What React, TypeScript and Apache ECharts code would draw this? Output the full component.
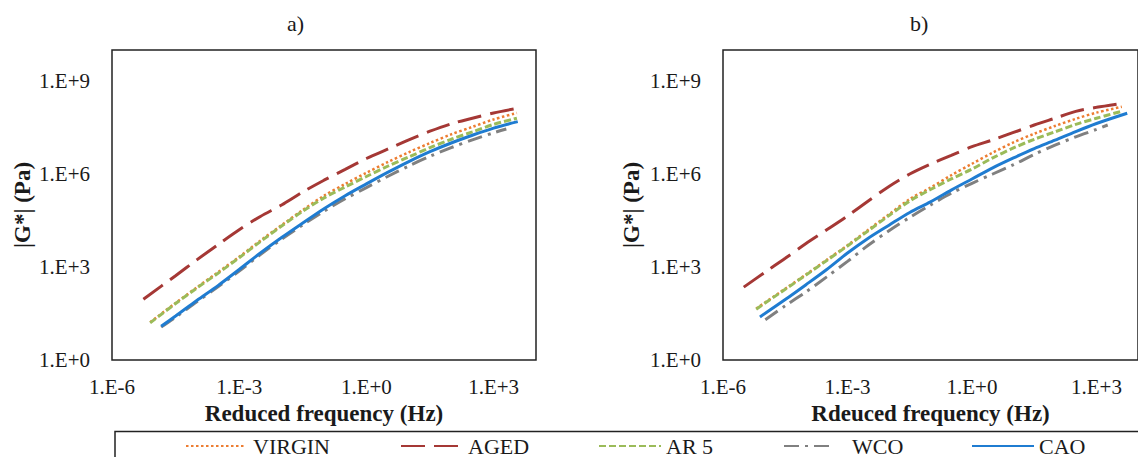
import React, { useEffect, useRef } from "react";
import * as echarts from "echarts";

const FONT = '"Liberation Serif", "Times New Roman", serif';

// Series names (legend order)
const seriesNames = ["VIRGIN", "AGED", "AR 5", "WCO", "CAO"];

// ---- Chart a) : reduced frequency (Hz) vs |G*| (Pa)
const aVirginFreq = [7.94e-6, 3.16e-5, 1e-4, 3.16e-4, 1e-3, 3.16e-3, 0.01, 0.0316, 0.1, 0.316, 1, 3.16, 10, 31.6, 100, 316, 1000, 3548];
const aVirginG = [16.6, 69.2, 219, 676, 2138, 7079, 22387, 69183, 199526, 478630, 1.096e6, 2.399e6, 5.01e6, 1.0e7, 1.905e7, 3.311e7, 5.754e7, 9.33e7];

const aAgedFreq = [5.5e-6, 3.16e-5, 1e-4, 3.16e-4, 1e-3, 3.16e-3, 0.01, 0.0316, 0.1, 0.316, 1, 3.16, 10, 31.6, 100, 316, 1000, 3715];
const aAgedG = [91.2, 525, 1698, 5248, 15849, 42658, 1.0e5, 263027, 630957, 1.413e6, 3.162e6, 6.31e6, 1.259e7, 2.399e7, 4.169e7, 6.31e7, 9.333e7, 1.318e8];

const aAr5Freq = [7.94e-6, 3.16e-5, 1e-4, 3.16e-4, 1e-3, 3.16e-3, 0.01, 0.0316, 0.1, 0.316, 1, 3.16, 10, 31.6, 100, 316, 1000, 3548];
const aAr5G = [15.8, 66.1, 209, 631, 1995, 6607, 20893, 63096, 169824, 380189, 831764, 1.778e6, 3.548e6, 7.079e6, 1.318e7, 2.291e7, 3.981e7, 6.31e7];

const aWcoFreq = [1.445e-5, 3.16e-5, 1e-4, 3.16e-4, 1e-3, 3.16e-3, 0.01, 0.0316, 0.1, 0.316, 1, 3.16, 10, 31.6, 100, 316, 1000, 1995];
const aWcoG = [11.5, 24.0, 75.9, 229, 741, 2512, 7943, 22909, 63096, 158489, 363078, 831764, 1.82e6, 3.715e6, 7.079e6, 1.259e7, 2.138e7, 2.818e7];

const aCaoFreq = [1.445e-5, 3.16e-5, 1e-4, 3.16e-4, 1e-3, 3.16e-3, 0.01, 0.0316, 0.1, 0.316, 1, 3.16, 10, 31.6, 100, 316, 1000, 3715];
const aCaoG = [12.3, 26.3, 83.2, 251, 832, 2818, 8913, 26303, 75858, 199526, 478630, 1.122e6, 2.512e6, 5.248e6, 1.0e7, 1.778e7, 3.02e7, 4.898e7];

// ---- Chart b)
const bVirginFreq = [6.31e-6, 3.16e-5, 1e-4, 3.16e-4, 1e-3, 3.16e-3, 0.01, 0.0316, 0.1, 0.316, 1, 3.16, 10, 31.6, 100, 316, 1000, 4074];
const bVirginG = [45.7, 200, 575, 1698, 5012, 15849, 50119, 154882, 363078, 912011, 2.138e6, 4.898e6, 1.047e7, 1.995e7, 3.548e7, 6.026e7, 9.55e7, 1.479e8];

const bAgedFreq = [3.16e-6, 1e-5, 3.16e-5, 1e-4, 3.16e-4, 1e-3, 3.16e-3, 0.01, 0.0316, 0.1, 0.316, 1, 3.16, 10, 31.6, 100, 316, 1000, 4169];
const bAgedG = [224, 661, 1905, 5754, 15849, 44668, 134896, 398107, 1.0e6, 2.089e6, 3.981e6, 7.586e6, 1.259e7, 2.188e7, 3.802e7, 6.31e7, 1.047e8, 1.413e8, 1.905e8];

const bAr5Freq = [6.31e-6, 3.16e-5, 1e-4, 3.16e-4, 1e-3, 3.16e-3, 0.01, 0.0316, 0.1, 0.316, 1, 3.16, 10, 31.6, 100, 316, 1000, 3981];
const bAr5G = [43.7, 191, 550, 1622, 4786, 14791, 45709, 134896, 316228, 691831, 1.445e6, 3.311e6, 6.918e6, 1.318e7, 2.291e7, 3.981e7, 6.31e7, 1.047e8];

const bWcoFreq = [1.047e-5, 3.16e-5, 1e-4, 3.16e-4, 1e-3, 3.16e-3, 0.01, 0.0316, 0.1, 0.316, 1, 3.16, 10, 31.6, 100, 316, 1000, 1862];
const bWcoG = [20.0, 56.2, 158, 479, 1514, 5012, 14791, 39811, 100000, 239883, 501187, 1.0e6, 1.995e6, 4.266e6, 8.511e6, 1.585e7, 2.754e7, 3.802e7];

const bCaoFreq = [7.76e-6, 3.16e-5, 1e-4, 3.16e-4, 1e-3, 3.16e-3, 0.01, 0.0316, 0.1, 0.316, 1, 3.16, 10, 31.6, 100, 316, 1000, 5495];
const bCaoG = [24.5, 89.1, 269, 832, 2818, 8511, 22387, 57544, 125893, 301995, 691831, 1.585e6, 3.311e6, 6.607e6, 1.23e7, 2.344e7, 4.266e7, 9.12e7];

const styles: Record<string, any> = {
  VIRGIN: { color: "#ED7D31", width: 2.5, type: [2.5, 2.5] },
  AGED: { color: "#A53835", width: 3, type: [24, 9] },
  "AR 5": { color: "#9BBB59", width: 3, type: [7, 3] },
  WCO: { color: "#808080", width: 3, type: [15, 6, 3, 6] },
  CAO: { color: "#1F7CD1", width: 3, type: "solid" },
};

const fmt = (v: number) => {
  const l = Math.log10(v);
  const e = Math.round(l);
  if (Math.abs(l - e) > 0.01 || e % 3 !== 0) return "";
  return "1.E" + (e < 0 ? "-" + -e : "+" + e);
};

function mkSeries(name: string, freq: number[], g: number[], idx: number) {
  const s = styles[name];
  return {
    type: "line",
    name,
    xAxisIndex: idx,
    yAxisIndex: idx,
    data: freq.map((f, i) => [f, g[i]]),
    showSymbol: false,
    symbol: "none",
    smooth: 0.3,
    color: s.color,
    lineStyle: { color: s.color, width: s.width, type: s.type, cap: "butt" },
    z: 2,
  };
}

const legendPos = [
  { left: 185, w: 58, pad: 4 },
  { left: 400, w: 62, pad: 0 },
  { left: 598, w: 62, pad: 0 },
  { left: 783, w: 48, pad: 15 },
  { left: 971, w: 62, pad: 0 },
];

export default function App() {
  const ref = useRef<HTMLDivElement>(null);
  useEffect(() => {
    if (!ref.current) return;
    const chart = echarts.init(ref.current, null, { renderer: "svg" });
    const textColor = "#1a1a1a";
    const xAxisBase = (gridIndex: number, name: string) => ({
      type: "log",
      logBase: 10,
      gridIndex,
      min: 1e-6,
      max: 1e4,
      interval: 3,
      name,
      nameLocation: "middle",
      nameGap: 41,
      nameTextStyle: { fontFamily: FONT, fontSize: 23, fontWeight: "bold", color: textColor },
      axisLine: { show: false },
      axisTick: { show: false },
      splitLine: { show: false },
      axisLabel: { formatter: fmt, fontFamily: FONT, fontSize: 21, color: textColor, margin: 16, showMaxLabel: false },
    });
    const yAxisBase = (gridIndex: number, gap: number) => ({
      type: "log",
      logBase: 10,
      gridIndex,
      min: 1,
      max: 1e10,
      interval: 3,
      name: "|G*| (Pa)",
      nameLocation: "middle",
      nameRotate: 90,
      nameGap: gap,
      nameTextStyle: { fontFamily: FONT, fontSize: 23, fontWeight: "bold", color: textColor },
      axisLine: { show: false },
      axisTick: { show: false },
      splitLine: { show: false },
      axisLabel: { formatter: fmt, fontFamily: FONT, fontSize: 21, color: textColor, margin: 22, showMaxLabel: false },
    });
    chart.setOption({
      animation: false,
      backgroundColor: "#ffffff",
      textStyle: { fontFamily: FONT },
      title: [
        { text: "a)", left: 287, top: 12, padding: 0, textStyle: { fontFamily: FONT, fontSize: 22, fontWeight: "normal", color: textColor } },
        { text: "b)", left: 910, top: 12, padding: 0, textStyle: { fontFamily: FONT, fontSize: 22, fontWeight: "normal", color: textColor } },
      ],
      grid: [
        { left: 112, top: 50, width: 424, height: 310, show: true, borderColor: "#222", borderWidth: 1.5, backgroundColor: "transparent" },
        { left: 723, top: 50, width: 422, height: 310, show: true, borderColor: "#222", borderWidth: 1.5, backgroundColor: "transparent" },
      ],
      xAxis: [xAxisBase(0, "Reduced frequency (Hz)"), xAxisBase(1, "Rdeuced frequency (Hz)")],
      yAxis: [yAxisBase(0, 78), yAxisBase(1, 80)],
      legend: seriesNames.map((n, i) => ({
        data: [n],
        left: legendPos[i].left,
        top: 435,
        padding: 0,
        itemWidth: legendPos[i].w,
        itemHeight: 14,
        selectedMode: false,
        itemStyle: { opacity: 0 },
        textStyle: { fontFamily: FONT, fontSize: 22, color: textColor, padding: [0, 0, 0, legendPos[i].pad] },
      })),
      graphic: [
        {
          type: "rect",
          shape: { x: 115, y: 431.5, width: 1100, height: 80 },
          style: { fill: "none", stroke: "#222", lineWidth: 1.5 },
          silent: true,
          z: 0,
        },
      ],
      series: [
        mkSeries("VIRGIN", aVirginFreq, aVirginG, 0),
        mkSeries("AGED", aAgedFreq, aAgedG, 0),
        mkSeries("AR 5", aAr5Freq, aAr5G, 0),
        mkSeries("WCO", aWcoFreq, aWcoG, 0),
        mkSeries("CAO", aCaoFreq, aCaoG, 0),
        mkSeries("VIRGIN", bVirginFreq, bVirginG, 1),
        mkSeries("AGED", bAgedFreq, bAgedG, 1),
        mkSeries("AR 5", bAr5Freq, bAr5G, 1),
        mkSeries("WCO", bWcoFreq, bWcoG, 1),
        mkSeries("CAO", bCaoFreq, bCaoG, 1),
      ],
    });
    return () => chart.dispose();
  }, []);
  return (
    <div
      ref={ref}
      style={{ position: "absolute", left: 0, top: 0, width: 1138, height: 457, background: "#fff", overflow: "hidden" }}
    />
  );
}
